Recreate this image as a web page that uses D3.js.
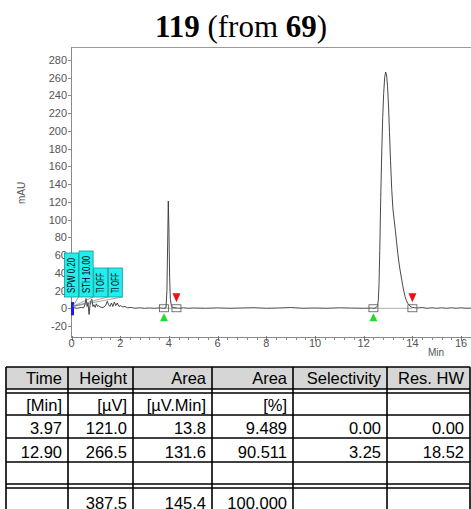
<!DOCTYPE html>
<html><head><meta charset="utf-8">
<script src="https://cdn.jsdelivr.net/npm/d3@7"></script>
<style>html,body{margin:0;padding:0;background:#fff;overflow:hidden}</style>
</head><body>
<svg id="c" width="471" height="509"></svg>
<script>
// ---- data ----
const traceTime = [0,0.10,0.25,0.40,0.50,0.55,0.60,0.64,0.68,0.72,0.76,0.80,0.84,0.88,0.92,0.97,1.02,1.07,1.12,1.17,1.22,1.30,1.40,1.47,1.52,1.58,1.64,1.70,1.76,1.82,1.88,1.95,2.02,2.10,2.20,2.30,2.45,2.60,2.80,3.00,3.20,3.40,3.60,3.80,3.88,3.92,3.95,3.975,4.00,4.03,4.06,4.10,4.15,4.25,4.40,4.60,4.80,5.00,5.50,6.00,6.50,7.00,7.50,8.00,8.50,9.00,9.50,10.00,10.50,11.00,11.50,12.00,12.30,12.45,12.52,12.57,12.60,12.63,12.66,12.70,12.74,12.78,12.82,12.86,12.90,12.94,12.98,13.02,13.06,13.10,13.15,13.20,13.25,13.30,13.35,13.40,13.45,13.50,13.55,13.60,13.65,13.70,13.75,13.80,13.85,13.90,13.95,14.00,14.10,14.20,14.40,14.60,14.80,15.00,15.20,15.40,15.60,15.80,16.00,16.20,16.50];
const traceMAU  = [0,0.5,0,1,0.5,4,11,2,6,-7,3,9,10,2,4,1,5,2,3,1.5,1,1,3,8,4,2,6,2,7,3,6,2,3,1.5,2,0.5,1,0,0.5,0,0.3,0,0.4,0,0.5,20,75,121,90,35,10,3,1,0.5,0,0.5,0,0.3,0,0.4,0,0.3,0.6,0,0.3,0.8,0,0.3,0,0.5,0.2,0,0.2,0,1,3,9,28,65,125,175,215,242,260,266.5,263,250,228,198,167,135,112,100,88,75,62,51,42,34,26,19,13,9,6,4,2.5,1.5,1,0.5,0.3,0.8,0,0.5,0,0.5,0,0.5,0,0.5,0,0.3];
const peakStart = [3.80, 12.40];
const peakEnd   = [4.31, 14.00];
const eventTime  = [0, 0.6, 1.2, 1.8];
const eventLabel = ["SPW 0.20", "STH 10.00", "TI OFF", "TI OFF"];
const yTicks = [-20,0,20,40,60,80,100,120,140,160,180,200,220,240,260,280];
const xTicks = [0,2,4,6,8,10,12,14,16];
const tableHeader = ["Time","Height","Area","Area","Selectivity","Res. HW"];
const tableUnits  = ["[Min]","[µV]","[µV.Min]","[%]","",""];
const tableRow1   = ["3.97","121.0","13.8","9.489","0.00","0.00"];
const tableRow2   = ["12.90","266.5","131.6","90.511","3.25","18.52"];
const tableEmpty  = ["","","","","",""];
const tableTotal  = ["","387.5","145.4","100.000","",""];

// ---- chart ----
const svg = d3.select("#c");
const x = d3.scaleLinear().domain([0,16]).range([71.5, 461.1]);
const y = d3.scaleLinear().domain([-20,280]).range([326,60]);
const plotTop = 47, plotBottom = 337, plotRight = 471;

// title
const title = svg.append("text").attr("x",241).attr("y",37).attr("text-anchor","middle")
  .style("font-family","'Liberation Serif','Times New Roman',serif").style("font-size","31px").attr("fill","#000");
title.append("tspan").attr("font-weight","bold").text("119");
title.append("tspan").text(" (from ");
title.append("tspan").attr("font-weight","bold").text("69");
title.append("tspan").text(")");

// frame lines
svg.append("line").attr("x1",71).attr("x2",plotRight).attr("y1",plotTop+0.5).attr("y2",plotTop+0.5).attr("stroke","#9a9a9a");
svg.append("line").attr("x1",71.5).attr("x2",71.5).attr("y1",plotTop).attr("y2",plotBottom).attr("stroke","#8a8a8a");
svg.append("line").attr("x1",71).attr("x2",plotRight).attr("y1",plotBottom+0.5).attr("y2",plotBottom+0.5).attr("stroke","#8a8a8a");

// y axis
const yAxis = svg.append("g");
yTicks.forEach(v=>{
  yAxis.append("line").attr("x1",68).attr("x2",71.5).attr("y1",Math.round(y(v))+0.5).attr("y2",Math.round(y(v))+0.5).attr("stroke","#8a8a8a");
  yAxis.append("text").attr("x",67).attr("y",y(v)+4).attr("text-anchor","end")
    .style("font-family","'Liberation Sans',Arial,sans-serif").style("font-size","11px").attr("fill","#555").text(v);
});
svg.append("text").attr("transform","translate(25,193) rotate(-90)").attr("text-anchor","middle")
  .style("font-family","'Liberation Sans',Arial,sans-serif").style("font-size","10px").attr("fill","#555").text("mAU");

// x axis
const minor = d3.range(0,16.41,0.4);
minor.forEach(t=>{
  svg.append("line").attr("x1",Math.round(x(t))+0.5).attr("x2",Math.round(x(t))+0.5).attr("y1",plotBottom).attr("y2",plotBottom+3).attr("stroke","#8a8a8a");
});
xTicks.forEach(t=>{
  svg.append("line").attr("x1",Math.round(x(t))+0.5).attr("x2",Math.round(x(t))+0.5).attr("y1",plotBottom-1).attr("y2",plotBottom+4).attr("stroke","#777");
  svg.append("text").attr("x",x(t)).attr("y",347).attr("text-anchor","middle")
    .style("font-family","'Liberation Sans',Arial,sans-serif").style("font-size","11px").attr("fill","#555").text(t);
});
svg.append("text").attr("x",436).attr("y",356).attr("text-anchor","middle")
  .style("font-family","'Liberation Sans',Arial,sans-serif").style("font-size","10px").attr("fill","#555").text("Min");

// integration baselines
peakStart.forEach((s,i)=>{
  svg.append("line").attr("x1",x(s)).attr("x2",x(peakEnd[i])).attr("y1",y(0)).attr("y2",y(0)).attr("stroke","#999").attr("stroke-width",0.8);
});

// trace
const pts = traceTime.map((t,i)=>[t,traceMAU[i]]);
svg.append("path").datum(pts)
  .attr("d", d3.line().x(d=>x(d[0])).y(d=>y(d[1])))
  .attr("fill","none").attr("stroke","#333").attr("stroke-width",0.9);

// blue marker
svg.append("line").attr("x1",x(0)+1).attr("x2",x(0)+1).attr("y1",y(7)).attr("y2",y(-8)).attr("stroke","#1a1aff").attr("stroke-width",3);

// peak start / end markers
function box(t){
  svg.append("rect").attr("x",x(t)-4.5).attr("y",y(0)-3.5).attr("width",9).attr("height",7)
    .attr("fill","none").attr("stroke","#555").attr("stroke-width",0.8);
}
peakStart.forEach(t=>{
  box(t);
  const cx = x(t), cy = y(0);
  svg.append("path").attr("d",`M${cx},${cy+5}L${cx-4},${cy+13}L${cx+4},${cy+13}Z`).attr("fill","#22dd22");
});
peakEnd.forEach(t=>{
  box(t);
  const cx = x(t), cy = y(0);
  svg.append("path").attr("d",`M${cx},${cy-6}L${cx-4},${cy-15}L${cx+4},${cy-15}Z`).attr("fill","#ee1111");
});

// event annotations
const boxH = [44,46,29,29];
const boxBottom = 297;
eventTime.forEach((t,i)=>{
  const cx = x(t), w = 14;
  svg.append("line").attr("x1",x(0.05)).attr("y1",y(2)).attr("x2",cx+w/2).attr("y2",boxBottom)
    .attr("stroke","#666").attr("stroke-width",0.6);
});
eventTime.forEach((t,i)=>{
  const cx = x(t), w = 14;
  svg.append("rect").attr("x",cx-w/2).attr("y",boxBottom-boxH[i]).attr("width",w).attr("height",boxH[i])
    .attr("fill","#22eeee").attr("stroke","#119999").attr("stroke-width",0.8);
  svg.append("text").attr("transform",`translate(${cx+3.5},${boxBottom-4}) rotate(-90)`)
    .attr("textLength", boxH[i]-9).attr("lengthAdjust","spacingAndGlyphs")
    .style("font-family","'Liberation Sans',Arial,sans-serif").style("font-size","10px").attr("fill","#000")
    .text(eventLabel[i]);
});

// ---- table ----
const colX = [6,68,133,212,293,387,470];
const tbl = svg.append("g");
const rows = [
  {vals: tableHeader, base:384},
  {vals: tableUnits,  base:411},
  {vals: tableRow1,   base:434},
  {vals: tableRow2,   base:458},
  {vals: tableEmpty,  base:480},
  {vals: tableTotal,  base:509}
];
tbl.append("rect").attr("x",colX[0]).attr("y",367).attr("width",colX[6]-colX[0]).attr("height",22).attr("fill","#d6d6d6");
[367,389,393,415,438,462,484,488].forEach(yy=>{
  tbl.append("line").attr("x1",colX[0]).attr("x2",colX[6]).attr("y1",yy).attr("y2",yy).attr("stroke","#000").attr("stroke-width",1.6);
});
colX.forEach(xx=>{
  tbl.append("line").attr("x1",xx).attr("x2",xx).attr("y1",367).attr("y2",509).attr("stroke","#000").attr("stroke-width",1.6);
});
rows.forEach(r=>{
  r.vals.forEach((v,i)=>{
    if(!v) return;
    tbl.append("text").attr("x",colX[i+1]-6).attr("y",r.base).attr("text-anchor","end")
      .style("font-family","'Liberation Sans',Arial,sans-serif").style("font-size","16.5px").attr("fill","#000").text(v);
  });
});
</script>
</body></html>
